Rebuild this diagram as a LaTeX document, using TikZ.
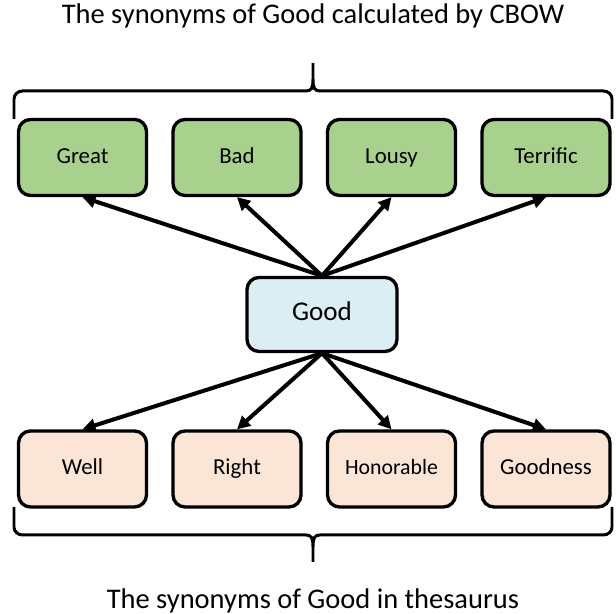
\documentclass[tikz,border=0pt]{standalone}
\usepackage{fontspec}
\setmainfont{Carlito}
\usetikzlibrary{arrows.meta}
\definecolor{cbowgreen}{HTML}{A9D18E}
\definecolor{goodblue}{HTML}{DAEEF3}
\definecolor{thespeach}{HTML}{FBE5D6}

\tikzset{
    wordbox/.style={draw,line width=1.9pt,rounded corners=0.24cm,minimum width=2.56cm,minimum height=1.52cm,text height=1.5ex,text depth=0.1ex,font=\fontsize{13}{15}\selectfont},
    arr/.style={-{Triangle[length=0.26cm,width=0.26cm]},line width=2.3pt},
    bracket/.style={line width=1.7pt}
}

\begin{document}
\begin{tikzpicture}
        \useasboundingbox (0,0) rectangle (12.32,12.28);
        \node[anchor=base,font=\fontsize{16.2}{19}\selectfont] (cbowtitle) at (6.26,11.80) {The synonyms of Good calculated by CBOW};
        \node[anchor=base,font=\fontsize{16.2}{19}\selectfont] (thestitle) at (6.26,0.10) {The synonyms of Good in thesaurus};

        % CBOW row
        \node[wordbox,fill=cbowgreen] (great) at (1.65,9.13) {Great};
        \node[wordbox,fill=cbowgreen] (bad) at (4.74,9.13) {Bad};
        \node[wordbox,fill=cbowgreen] (lousy) at (7.83,9.13) {Lousy};
        \node[wordbox,fill=cbowgreen] (terrific) at (10.92,9.13) {Terrific};

        \node[wordbox,fill=goodblue,minimum width=3.0cm,minimum height=1.48cm,font=\fontsize{15.4}{18}\selectfont] (good) at (6.44,5.99) {Good};

        % thesaurus row
        \node[wordbox,fill=thespeach] (well) at (1.65,2.90) {Well};
        \node[wordbox,fill=thespeach] (right) at (4.74,2.90) {Right};
        \node[wordbox,fill=thespeach,font=\fontsize{12.4}{15}\selectfont] (honorable) at (7.83,2.90) {Honorable};
        \node[wordbox,fill=thespeach] (goodness) at (10.92,2.90) {Goodness};

        \draw[arr](good.north)--(great.south);
        \draw[arr](good.north)--(bad.south);
        \draw[arr](good.north)--(lousy.south);
        \draw[arr](good.north)--(terrific.south);
        \draw[arr](good.south)--(well.north);
        \draw[arr](good.south)--(right.north);
        \draw[arr](good.south)--(honorable.north);
        \draw[arr](good.south)--(goodness.north);

        % braces
        \draw[bracket](0.28,9.90)--(0.28,10.30) to[out=90,in=180] (0.45,10.46)--(6.12,10.46)
            .. controls (6.23,10.46) and (6.26,10.52) .. (6.26,10.70)--(6.26,11.02)--(6.26,10.70)
            .. controls (6.26,10.52) and (6.29,10.46) .. (6.40,10.46)--(12.07,10.46) to[out=0,in=90] (12.24,10.30)--(12.24,9.90);
        \draw[bracket](0.28,2.14)--(0.28,1.74) to[out=-90,in=180] (0.45,1.58)--(6.12,1.58)
            .. controls (6.23,1.58) and (6.26,1.52) .. (6.26,1.34)--(6.26,1.04)--(6.26,1.34)
            .. controls (6.26,1.52) and (6.29,1.58) .. (6.40,1.58)--(12.07,1.58) to[out=0,in=-90] (12.24,1.74)--(12.24,2.14);
    \end{tikzpicture}
\end{document}
